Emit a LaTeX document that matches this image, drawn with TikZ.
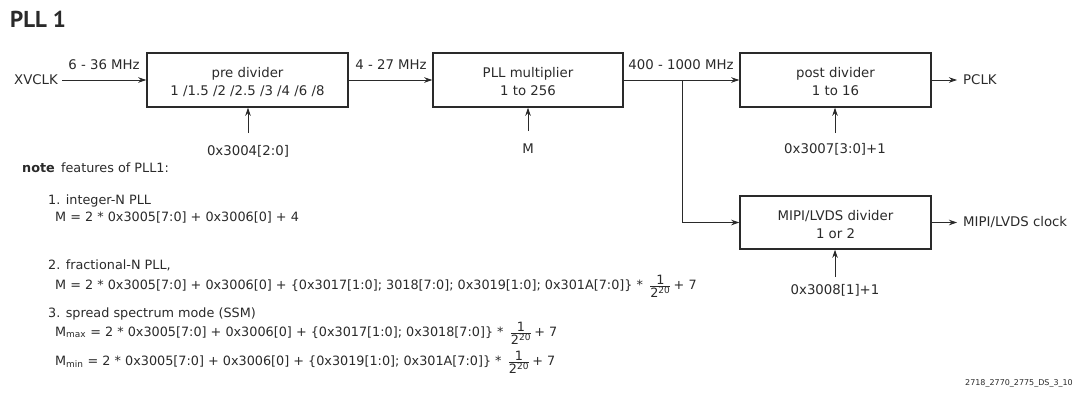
\documentclass[tikz,border=0pt]{standalone}
\usepackage{fontspec}
\setmainfont{DejaVu Sans}
\newfontfamily\titlefont{PT Sans}
\usetikzlibrary{arrows.meta,calc}
\definecolor{ink}{HTML}{2A2A2A}
\newcommand{\fracpart}{\hspace{6pt}$\frac{\mbox{1}}{\mbox{2\textsuperscript{20}}}$\,}
\begin{document}
\begin{tikzpicture}[x=1pt,y=-1pt,
  every node/.style={text=ink, inner sep=0pt},
  blk/.style={draw=ink, line width=1.5pt},
  btxt/.style={align=center, font=\fontsize{13.3}{18}\selectfont},
  arr/.style={draw=ink, line width=0.8pt, -{Stealth[length=8pt,width=5.5pt,inset=2.5pt]}},
  lbl/.style={font=\fontsize{13.3}{15}\selectfont},
  note/.style={anchor=base west, font=\fontsize{12.8}{14}\selectfont}]
\useasboundingbox (0,0) rectangle (1075,392);
% title
\node[anchor=base west, font=\titlefont\fontsize{23}{26}\bfseries] (title) at (10,27) {PLL 1};
% blocks
\node[blk, minimum width=201pt, minimum height=54pt] (pre) at (247.5,80) {};
\node[blk, minimum width=190pt, minimum height=54pt] (pll) at (528,80) {};
\node[blk, minimum width=191pt, minimum height=54pt] (post) at (835.5,80) {};
\node[blk, minimum width=191pt, minimum height=53pt] (mipi) at (835.5,222.5) {};
\node[btxt] (pret) at ($(pre.center)+(0,2)$) {pre divider\\1 /1.5 /2 /2.5 /3 /4 /6 /8};
\node[btxt] (pllt) at ($(pll.center)+(0,2)$) {PLL multiplier\\1 to 256};
\node[btxt] (postt) at ($(post.center)+(0,2)$) {post divider\\1 to 16};
\node[btxt] (mipit) at ($(mipi.center)+(0,2)$) {MIPI/LVDS divider\\1 or 2};
% input / outputs
\node[lbl, anchor=east] (xv) at (58,80) {XVCLK};
\node[lbl, anchor=west] (pclk) at (963,80) {PCLK};
\node[lbl, anchor=west] (mclk) at (963,222.5) {MIPI/LVDS clock};
\draw[arr] ($(xv.east)+(4pt,0)$) -- (pre.west);
\draw[arr] (pre.east) -- (pll.west);
\draw[arr] (pll.east) -- (post.west);
\coordinate (br) at (682,80);
\draw[arr] (br) |- (mipi.west);
\draw[arr] (post.east) -- ($(pclk.west)+(-6pt,0)$);
\draw[arr] (mipi.east) -- ($(mclk.west)+(-6pt,0)$);
\node[lbl] (f1) at (104,65) {6 - 36 MHz};
\node[lbl] (f2) at (391,65) {4 - 27 MHz};
\node[lbl] (f3) at (681,65) {400 - 1000 MHz};
% control inputs
\node[lbl] (c1) at (248,151) {0x3004[2:0]};
\node[lbl] (c2) at (528,149) {M};
\node[lbl] (c3) at (835,149) {0x3007[3:0]+1};
\node[lbl] (c4) at (835,290) {0x3008[1]+1};
\coordinate (c1t) at (248,133);
\coordinate (c2t) at (528,131);
\coordinate (c3t) at (835,133);
\coordinate (c4t) at (835,277);
\draw[arr] (c1t) -- (c1t |- pre.south);
\draw[arr] (c2t) -- (c2t |- pll.south);
\draw[arr] (c3t) -- (c3t |- post.south);
\draw[arr] (c4t) -- (c4t |- mipi.south);
% notes
\node[note] (n0) at (22,172) {\textbf{note}\, features of PLL1:};
\node[note] (n1) at (48,204) {1. integer-N PLL};
\node[note] (n1a) at (55,221) {M = 2 * 0x3005[7:0] + 0x3006[0] + 4};
\node[note] (n2) at (48,269) {2. fractional-N PLL,};
\node[note] (n2a) at (55,289) {M = 2 * 0x3005[7:0] + 0x3006[0] + \{0x3017[1:0]; 3018[7:0]; 0x3019[1:0]; 0x301A[7:0]\} *\fracpart+ 7};
\node[note] (n3) at (48,317) {3. spread spectrum mode (SSM)};
\node[note] (n3a) at (55,336) {M\textsubscript{max} = 2 * 0x3005[7:0] + 0x3006[0] + \{0x3017[1:0]; 0x3018[7:0]\} *\fracpart+ 7};
\node[note] (n3b) at (55,365) {M\textsubscript{min} = 2 * 0x3005[7:0] + 0x3006[0] + \{0x3019[1:0]; 0x301A[7:0]\} *\fracpart+ 7};
\node[anchor=east, font=\fontsize{8}{9}\selectfont] (ref) at (1073,383) {2718\_2770\_2775\_DS\_3\_10};
\end{tikzpicture}
\end{document}
